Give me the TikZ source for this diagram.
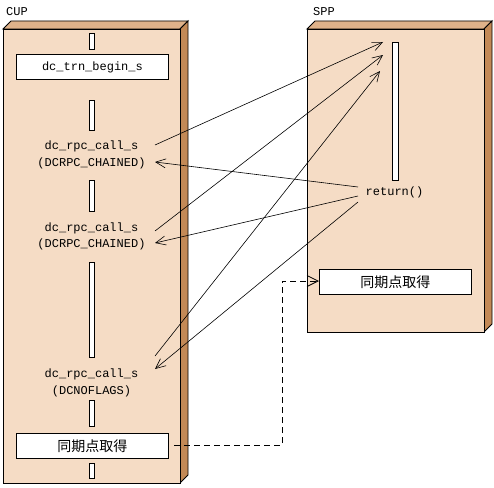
\documentclass[tikz,border=0pt]{standalone}
\usepackage{fontspec}
\setmonofont{Liberation Mono}
\newfontfamily\cjk{Noto Sans CJK JP}
\usetikzlibrary{arrows.meta}
\definecolor{frontc}{HTML}{F5DCC5}
\definecolor{topc}{HTML}{DFB28A}
\definecolor{sidec}{HTML}{C38956}
\begin{document}
\begin{tikzpicture}[x=1pt,y=-1pt,
  face/.style={draw=black,line width=0.9pt},
  bar/.style={draw=black,fill=white,line width=0.9pt,minimum width=5pt,inner sep=0pt},
  opbox/.style={draw=black,fill=white,line width=0.9pt,minimum width=152pt,minimum height=25pt,inner sep=0pt},
  lbl/.style={font=\ttfamily\fontsize{12}{16}\selectfont,inner sep=0pt},
  jp/.style={font=\cjk\fontsize{14}{16}\selectfont,inner sep=0pt},
  msg/.style={line width=0.6pt,-{Straight Barb[length=10pt,width=9pt,line width=0.6pt]}},
  sync/.style={line width=0.8pt,dash pattern=on 6pt off 4pt,-{Straight Barb[length=11pt,width=11pt,line width=0.8pt,sep=0pt]}}
]
\useasboundingbox (0,0) rectangle (494,487);
% CUP box
\filldraw[face,fill=topc] (3,29) -- (11,21) -- (188,21) -- (180,29) -- cycle;
\filldraw[face,fill=sidec] (180,29) -- (188,21) -- (188,475) -- (180,483) -- cycle;
\node[face,fill=frontc,minimum width=177pt,minimum height=454pt,inner sep=0pt,anchor=north west] (cup) at (3,29) {};
\node[lbl,anchor=west] (cupl) at (6,12) {CUP};
% SPP box
\filldraw[face,fill=topc] (307,29) -- (315,21) -- (492,21) -- (484,29) -- cycle;
\filldraw[face,fill=sidec] (484,29) -- (492,21) -- (492,324) -- (484,332) -- cycle;
\node[face,fill=frontc,minimum width=177pt,minimum height=303pt,inner sep=0pt,anchor=north west] (spp) at (307,29) {};
\node[lbl,anchor=west] (sppl) at (313,12) {SPP};
% CUP bars
\node[bar,minimum height=16pt,anchor=north] (b1) at (91.5,33) {};
\node[opbox,anchor=north west] (begin) at (16,54) {\ttfamily\fontsize{12}{14}\selectfont dc\_trn\_begin\_s};
\node[bar,minimum height=30pt,anchor=north] (b2) at (91.5,100) {};
\node[lbl] (c1a) at (91.5,146) {dc\_rpc\_call\_s};
\node[lbl] (c1b) at (91.5,163) {(DCRPC\_CHAINED)};
\node[bar,minimum height=31pt,anchor=north] (b3) at (91.5,180) {};
\node[lbl] (c2a) at (91.5,228) {dc\_rpc\_call\_s};
\node[lbl] (c2b) at (91.5,244) {(DCRPC\_CHAINED)};
\node[bar,minimum height=95pt,anchor=north] (b4) at (91.5,262) {};
\node[lbl] (c3a) at (91.5,374) {dc\_rpc\_call\_s};
\node[lbl] (c3b) at (91.5,391) {(DCNOFLAGS)};
\node[bar,minimum height=26pt,anchor=north] (b5) at (91.5,400) {};
\node[opbox,anchor=north west] (sync1) at (16,433) {};
\node[jp] (sync1t) at (sync1.center) {同期点取得};
\node[bar,minimum height=15pt,anchor=north] (b6) at (91.5,463) {};
% SPP parts
\node[bar,minimum height=138pt,minimum width=6pt,anchor=north] (sb) at (395,42) {};
\node[lbl] (ret) at (394.5,192) {return()};
\node[opbox,anchor=north west] (sync2) at (319,269) {};
\node[jp] (sync2t) at (sync2.center) {同期点取得};
% connector endpoints
\coordinate (o1) at (155,145);
\coordinate (o2) at (155,231);
\coordinate (o3) at (155,356);
\coordinate (i1) at (155,162);
\coordinate (i2) at (155,243);
\coordinate (i3) at (155,369);
\coordinate (t1) at (383,42);
\coordinate (t2) at (383,55);
\coordinate (t3) at (380,71);
\coordinate (r1) at (358,187);
\coordinate (r2) at (358,196);
\coordinate (r3) at (358,202);
\coordinate (dstart) at (174,445);
\coordinate (dbend1) at (282,445);
\coordinate (dbend2) at (282,281);
% messages
\draw[msg] (o1) -- (t1);
\draw[msg] (o2) -- (t2);
\draw[msg] (o3) -- (t3);
\draw[msg] (r1) -- (i1);
\draw[msg] (r2) -- (i2);
\draw[msg] (r3) -- (i3);
\draw[sync] (dstart) -- (dbend1) -- (dbend2) -- (sync2.west |- dbend2);
\end{tikzpicture}
\end{document}
